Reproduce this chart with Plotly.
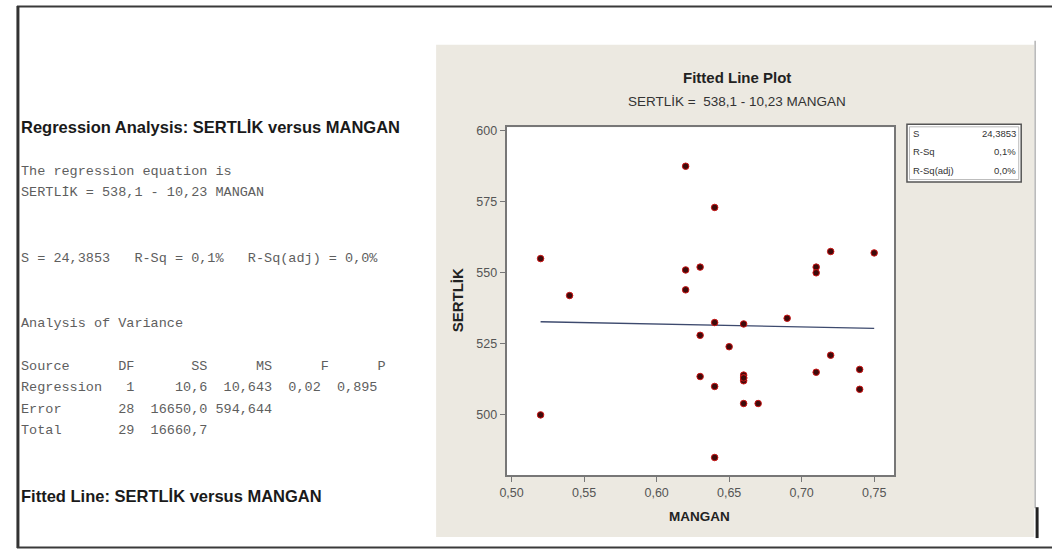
import plotly.graph_objects as go

W, H = 1052, 550

# ---------------- data ----------------
mangan = [0.52, 0.52, 0.54, 0.62, 0.62, 0.62, 0.63, 0.63, 0.63, 0.64,
          0.64, 0.64, 0.64, 0.65, 0.66, 0.66, 0.66, 0.66, 0.66, 0.67,
          0.69, 0.71, 0.71, 0.71, 0.72, 0.72, 0.74, 0.74, 0.75, 0.66]
sertlik = [555, 500, 542, 587.5, 551, 544, 552, 528, 513.5, 573,
           532.5, 510, 485, 524, 532, 514, 513, 512, 504, 504,
           534, 552, 550, 515, 557.5, 521, 516, 509, 557, 513]

intercept = 538.1
slope = -10.23

x_ticks = [0.50, 0.55, 0.60, 0.65, 0.70, 0.75]
y_ticks = [500, 525, 550, 575, 600]

stats_labels = ["S", "R-Sq", "R-Sq(adj)"]
stats_values = ["24,3853", "0,1%", "0,0%"]

header_lines = [
    "The regression equation is",
    "SERTLİK = 538,1 - 10,23 MANGAN",
]
summary_line = "S = 24,3853   R-Sq = 0,1%   R-Sq(adj) = 0,0%"
anova_title = "Analysis of Variance"
anova_lines = [
    "Source      DF       SS      MS      F      P",
    "Regression   1     10,6  10,643  0,02  0,895",
    "Error       28  16650,0 594,644",
    "Total       29  16660,7",
]

# ---------------- helpers ----------------
def px(x):
    return x / W

def py(y):
    return 1 - y / H

fit_x = [min(mangan), max(mangan)]
fit_y = [intercept + slope * v for v in fit_x]

fig = go.Figure()
fig.add_trace(go.Scatter(
    x=fit_x, y=fit_y, mode="lines",
    line=dict(color="#3d4a6e", width=1.3),
    hoverinfo="skip", showlegend=False))
fig.add_trace(go.Scatter(
    x=mangan, y=sertlik, mode="markers",
    marker=dict(size=6.5, color="#3f0a0a", line=dict(color="#cc1515", width=1)),
    showlegend=False))

shapes = [
    # grey panel
    dict(type="rect", xref="paper", yref="paper", layer="below",
         x0=px(432), x1=px(1034), y0=py(537), y1=py(42),
         fillcolor="#ECE9E1", line=dict(width=0)),
    # white plot area
    dict(type="rect", xref="paper", yref="paper", layer="below",
         x0=px(503), x1=px(893), y0=py(475), y1=py(125),
         fillcolor="white", line=dict(width=0)),
    # stats box
    dict(type="rect", xref="paper", yref="paper",
         x0=px(906), x1=px(1021), y0=py(180), y1=py(122),
         fillcolor="white", line=dict(color="#555555", width=1.5)),
    dict(type="rect", xref="paper", yref="paper",
         x0=px(908.5), x1=px(1018.5), y0=py(177.5), y1=py(124.5),
         fillcolor="rgba(0,0,0,0)", line=dict(color="#aaaaaa", width=0.8)),
    # outer frame
    dict(type="line", xref="paper", yref="paper",
         x0=px(10), x1=px(1052), y0=py(3.5), y1=py(3.5),
         line=dict(color="#3a3a3a", width=2)),
    dict(type="line", xref="paper", yref="paper",
         x0=px(11), x1=px(11), y0=py(3), y1=py(548),
         line=dict(color="#333333", width=3)),
    dict(type="line", xref="paper", yref="paper",
         x0=px(10), x1=px(1052), y0=py(547.5), y1=py(547.5),
         line=dict(color="#3a3a3a", width=2)),
    dict(type="line", xref="paper", yref="paper",
         x0=px(1035), x1=px(1035), y0=py(38), y1=py(508),
         line=dict(color="#a0a0a0", width=1.2)),
    dict(type="line", xref="paper", yref="paper",
         x0=px(1037), x1=px(1037), y0=py(507), y1=py(538),
         line=dict(color="#222222", width=3)),
]

annotations = []
def text(x, y, s, size, color="#222", family="Liberation Sans", bold=False,
         xanchor="left", angle=0):
    if bold:
        s = "<b>" + s + "</b>"
    annotations.append(dict(
        x=px(x), y=py(y), xref="paper", yref="paper", text=s,
        showarrow=False, xanchor=xanchor, yanchor="middle", textangle=angle,
        font=dict(size=size, color=color, family=family)))

mono = "Liberation Mono"
mcol = "#5e5e5e"
text(12, 125, "Regression Analysis: SERTLİK versus MANGAN", 16.5, "#1a1a1a", bold=True)
text(12, 169, header_lines[0].replace(" ", "\u00a0"), 13.5, mcol, mono)
text(12, 191, header_lines[1].replace(" ", "\u00a0"), 13.5, mcol, mono)
text(12, 257, summary_line.replace(" ", "\u00a0"), 13.5, mcol, mono)
text(12, 322, anova_title.replace(" ", "\u00a0"), 13.5, mcol, mono)
for i, ln in enumerate(anova_lines):
    text(12, 365 + i * 21.7, ln.replace(" ", "\u00a0"), 13.5, mcol, mono)
text(12, 496, "Fitted Line: SERTLİK versus MANGAN", 16.5, "#1a1a1a", bold=True)

# chart titles
text(735, 75, "Fitted Line Plot", 15, "#222", bold=True, xanchor="center")
text(735, 99, "SERTLİK =  538,1 - 10,23 MANGAN", 13.5, "#333", xanchor="center")
text(697, 516, "MANGAN", 13.5, "#222", bold=True, xanchor="center")
text(453, 299, "SERTLİK", 15, "#222", bold=True, xanchor="center", angle=-90)

# stats box text
for i, (lab, val) in enumerate(zip(stats_labels, stats_values)):
    yy = 131 + i * 18.5
    text(910, yy, lab, 9.5, "#333")
    text(1018, yy, val, 9.5, "#333", xanchor="right")

fig.update_layout(
    width=W, height=H,
    margin=dict(l=0, r=0, t=0, b=0),
    paper_bgcolor="white", plot_bgcolor="white",
    separators=",.",
    showlegend=False,
    shapes=shapes, annotations=annotations,
    xaxis=dict(domain=[px(503), px(893)], range=[0.4966, 0.7637],
               tickvals=x_ticks, tickformat=".2f",
               showgrid=False, zeroline=False,
               showline=True, linecolor="#777777", linewidth=2, mirror=True,
               ticks="outside", ticklen=5, tickcolor="#777777",
               tickfont=dict(family="Liberation Sans", size=12.5, color="#555555")),
    yaxis=dict(domain=[py(475), py(125)], range=[478.7, 601.2],
               tickvals=y_ticks,
               showgrid=False, zeroline=False,
               showline=True, linecolor="#777777", linewidth=2, mirror=True,
               ticks="outside", ticklen=5, tickcolor="#777777",
               tickfont=dict(family="Liberation Sans", size=12.5, color="#555555")),
)

fig.write_html("out.html")
